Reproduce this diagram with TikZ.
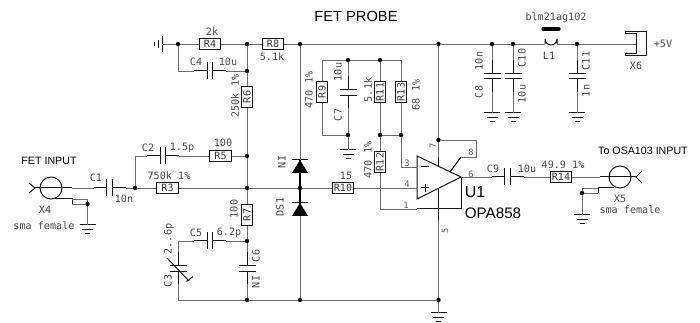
\documentclass[tikz,border=0pt]{standalone}
\usepackage{fontspec}
\setmainfont{DejaVu Sans Mono}
\newfontfamily\labelfont{Liberation Sans}
\newcommand{\fs}[1]{\fontsize{#1}{#1}\selectfont}
\tikzset{
  wire/.style={line width=0.5pt,draw=black!58},
  heavy/.style={line width=0.75pt,draw=black!92},
  dot/.style={circle,fill=black,inner sep=0pt,minimum size=3.3pt},
  resbox/.style={draw=black!92,line width=0.75pt,fill=white,inner sep=0pt,minimum width=15.8pt,minimum height=7.8pt,text=black!78,font=\fs{7.5}},
  lbl/.style={inner sep=0pt,text=black!72,font=\fs{7.6}},
  hugelbl/.style={inner sep=0pt,text=black,font=\fs{11}},
  pin/.style={inner sep=0pt,text=black!62,font=\fs{6.6}},
}
% junction
\newcommand{\junc}[3]{\node[dot] (#1) at (#2,#3) {};}
% resistor, horizontal or vertical
\newcommand{\resH}[4]{\node[resbox] (#1) at (#2,#3) {#4};}
\newcommand{\resV}[4]{\node[resbox,rotate=90] (#1) at (#2,#3) {#4};}
% capacitors: leads end at name-a and name-b
\newcommand{\capH}[3]{%
  \coordinate (#1-a) at (#2-16,#3); \coordinate (#1-b) at (#2+16,#3);
  \draw[heavy] (#1-a) -- (#2-2.8,#3) (#2+2.8,#3) -- (#1-b);
  \draw[heavy] (#2-2.8,#3-8.5) -- (#2-2.8,#3+8.5) (#2+2.8,#3-8.5) -- (#2+2.8,#3+8.5);}
\newcommand{\capV}[3]{%
  \coordinate (#1-a) at (#2,#3-16); \coordinate (#1-b) at (#2,#3+16);
  \draw[heavy] (#1-a) -- (#2,#3-2.8) (#2,#3+2.8) -- (#1-b);
  \draw[heavy] (#2-8.5,#3-2.8) -- (#2+8.5,#3-2.8) (#2-8.5,#3+2.8) -- (#2+8.5,#3+2.8);}
% ground symbol pointing down
\newcommand{\gnd}[3]{%
  \coordinate (#1) at (#2,#3);
  \draw[heavy] (#2-8,#3) -- (#2+8,#3) (#2-5.5,#3+4.5) -- (#2+5.5,#3+4.5) (#2-2.5,#3+9) -- (#2+2.5,#3+9);}
% diode, apex up
\newcommand{\diode}[3]{%
  \coordinate (#1-k) at (#2,#3); \coordinate (#1-a) at (#2,#3+13);
  \draw[heavy] (#2-8,#3) -- (#2+8,#3);
  \fill[black] (#2,#3) -- (#2+8,#3+13) -- (#2-8,#3+13) -- cycle;}
\begin{document}
\begin{tikzpicture}[x=0.75pt,y=-0.75pt]
\useasboundingbox (0,0) rectangle (700,323);
% ---- junctions
\junc{jA}{178}{44}\junc{jB}{247}{44}\junc{jC}{300}{44}\junc{jD}{438.5}{44}
\junc{jE}{492}{44}\junc{jF}{513}{44}\junc{jG}{577}{44}
\junc{jH}{247}{71}\junc{jI}{247}{156}\junc{jJ}{135}{188}\junc{jK}{247}{188}\junc{jL}{300}{188}
\junc{jM}{247}{241}\junc{jN}{247}{300}\junc{jO}{300}{300}\junc{jP}{438.5}{300}
\junc{jQ}{348}{60}\junc{jR}{380}{60}\junc{jS}{348}{135}\junc{jT}{380}{135}\junc{jU}{401}{135}
\junc{jV}{438.5}{140}\junc{jW}{87.5}{204}\junc{jX}{582}{193}
% ---- resistors
\resH{R4}{210}{44}{R4}\resH{R8}{273}{44}{R8}\resH{R5}{220.5}{156}{R5}\resH{R3}{167.5}{188}{R3}
\resH{R10}{343}{188}{R10}\resH{R14}{561}{177}{R14}
\resV{R6}{247}{97}{R6}\resV{R7}{247}{215}{R7}\resV{R9}{322}{92}{R9}
\resV{R11}{380}{92}{R11}\resV{R13}{401}{92}{R13}\resV{R12}{380}{162}{R12}
% ---- capacitors
\capH{C1}{109.5}{188}\capH{C2}{163}{156}\capH{C4}{210}{71}\capH{C5}{210}{241}\capH{C9}{507.5}{177}
\capV{C6}{247}{268.5}\capV{C7}{348}{92.5}\capV{C8}{492}{76}\capV{C10}{513}{76}\capV{C11}{577}{76}
\capV{C3}{178}{268.5}
% ---- grounds
\gnd{g1}{87.5}{225}\gnd{g2}{348}{150}\gnd{g3}{438.5}{313}\gnd{g4}{492}{113}\gnd{g5}{513}{113}\gnd{g6}{577}{113}\gnd{g7}{582}{215}
% left ground (rotated)
\coordinate (gL) at (162,44);
\draw[heavy] (162,36) -- (162,52) (158,40) -- (158,48) (154,42) -- (154,46);
% ---- diodes
\diode{D1}{300}{160}\diode{D2}{300}{203}
\draw[line width=1.1pt,black] (D1-k) -- (D2-a);
\draw[wire] (jC) -- (D1-k);
\draw[wire] (D2-a) -- (jO);
% ---- variable capacitor arrow
\draw[heavy] (167,258) -- (189,281) (186.5,281.5) -- (193,276.5);
% ---- op amp
\coordinate (sTop) at (438.5,157);
\coordinate (sBot) at (438.5,220);
\coordinate (oT) at (417,156);\coordinate (oB) at (417,199);\coordinate (oO) at (461,177);
\coordinate (oP) at (417,188);\coordinate (oM) at (417,167);\coordinate (oF) at (417,209);\coordinate (oC) at (461,209);
\draw[wire] (jD) -- (jV) -- (sTop);
\draw[heavy] (sTop) -- (sBot);
\draw[wire] (sBot) -- (jP);
\draw[heavy,fill=white] (oT) -- (oO) -- (oB) -- cycle;
\draw[heavy] (oF) -- (oC) -- (oO);
\draw[heavy] (450,172) -- (461,157);
\coordinate (p8a) at (476,140);\coordinate (p8b) at (476,157);\coordinate (p8c) at (461,157);
\draw[wire] (jV) -- (p8a) -- (p8b) -- (p8c);
\draw[heavy] (421,166.5) -- (429,166.5);
\draw[heavy] (421,188) -- (429,188) (425,184) -- (425,192);
% ---- connectors
\coordinate (x4) at (51,188);\coordinate (x5) at (620,177);
\node[circle,draw=black!92,line width=0.75pt,inner sep=0pt,minimum size=16.5pt] (X4) at (x4) {};
\node[circle,draw=black!92,line width=0.75pt,inner sep=0pt,minimum size=16.5pt] (X5) at (x5) {};
\coordinate (x4t) at (35,188);\coordinate (x4h) at (72,188);
\coordinate (x5t) at (636,177);\coordinate (x5h) at (600,177);
\draw[heavy] (x4t) -- (x4h);
\draw[heavy] (x5t) -- (x5h);
\draw[heavy] (29,183) -- (x4t) -- (29,193);
\draw[heavy] (642,171) -- (x5t) -- (642,183);
\draw[heavy] (55,198.5) -- (72,198.5) -- (72,204);
\draw[wire] (72,199) -- (87.5,199) -- (jW) -- (72,204);
\draw[heavy] (614,188) -- (598,188) -- (598,193);
\draw[wire] (598,188) -- (582,188) -- (jX) -- (598,193);
% X6
\coordinate (x6) at (636,44);
\draw[heavy] (625,32) -- (646,32) -- (646,56) -- (625,56) -- (625,54) -- (636,54) -- (636,34) -- (625,34) -- cycle;
% L1
\coordinate (l1a) at (545,44);\coordinate (l1b) at (557,44);
\draw[heavy] (l1a) -- (545,39) arc[start angle=180,end angle=0,radius=6] -- (l1b);
\draw[line width=2.4pt,black,line cap=round] (543,29) -- (559,29);
% ---- wires
\draw[wire] (gL) -- (jA);
\draw[wire] (jA) -- (R4.west);
\draw[wire] (R4.east) -- (jB) -- (R8.west);
\draw[wire] (R8.east) -- (jC) -- (jD) -- (jE) -- (jF) -- (l1a);
\draw[wire] (l1b) -- (jG) -- (x6);
\draw[wire] (jA) -- (178,71) -- (C4-a);
\draw[wire] (C4-b) -- (jH);
\draw[wire] (jB) -- (jH) -- (R6.east);
\draw[wire] (R6.west) -- (jI) -- (jK) -- (R7.east);
\draw[wire] (R7.west) -- (jM) -- (C6-a);
\draw[wire] (C6-b) -- (jN);
\draw[wire] (R5.east) -- (jI);
\draw[wire] (C2-b) -- (R5.west);
\draw[wire] (jJ) -- (135,156) -- (C2-a);
\draw[wire] (x4h) -- (C1-a);
\draw[wire] (C1-b) -- (jJ) -- (R3.west);
\draw[wire] (R3.east) -- (jK) -- (jL) -- (R10.west);
\draw[wire] (R10.east) -- (oP);
\draw[wire] (jM) -- (C5-b);
\draw[wire] (C5-a) -- (178,241) -- (C3-a);
\draw[wire] (C3-b) -- (178,300) -- (jN) -- (jO) -- (jP) -- (g3);
\draw[wire] (jW) -- (g1);
\draw[wire] (jX) -- (g7);
% feedback network
\draw[wire] (R9.east) -- (322,60) -- (jQ) -- (jR) -- (401,60) -- (R13.east);
\draw[wire] (R9.west) -- (322,135) -- (jS) -- (g2);
\draw[wire] (jQ) -- (C7-a);
\draw[wire] (C7-b) -- (jS);
\draw[wire] (jR) -- (R11.east);
\draw[wire] (R11.west) -- (jT) -- (jU) ;
\draw[wire] (R13.west) -- (jU) -- (401,167) -- (oM);
\draw[wire] (jT) -- (R12.east);
\draw[wire] (R12.west) -- (380,209) -- (oF);
% caps to rails
\draw[wire] (jE) -- (C8-a);\draw[wire] (C8-b) -- (g4);
\draw[wire] (jF) -- (C10-a);\draw[wire] (C10-b) -- (g5);
\draw[wire] (jG) -- (C11-a);\draw[wire] (C11-b) -- (g6);
% output
\draw[wire] (oO) -- (C9-a);
\draw[wire] (C9-b) -- (R14.west);
\draw[wire] (R14.east) -- (x5h);
% ---- labels
\node[hugelbl] (t0) at (356,16) {\labelfont\fs{11}FET PROBE};
\node[hugelbl] (t1) at (49,161) {\labelfont\fs{8}FET INPUT};
\node[hugelbl] (t2) at (643,151) {\labelfont\fs{8}To OSA103 INPUT};
\node[hugelbl] (t3) at (475,192) {\labelfont\fs{12}U1};
\node[hugelbl] (t4) at (493,213) {\labelfont\fs{11.4}OPA858};
\node[lbl] (a1) at (212,32) {2k};
\node[lbl] (a2) at (196,62) {C4};
\node[lbl] (a3) at (228,62) {10u};
\node[lbl] (a4) at (148,148) {C2};
\node[lbl] (a5) at (182,148) {1.5p};
\node[lbl] (a6) at (223,143) {100};
\node[lbl] (a7) at (169,176) {750k 1\%};
\node[lbl] (a8) at (96,178) {C1};
\node[lbl] (a9) at (124,199) {10n};
\node[lbl] (a10) at (45,210) {X4};
\node[lbl] (a11) at (44,226) {sma female};
\node[lbl] (a12) at (272,57) {5.1k};
\node[lbl] (a13) at (346,176) {15};
\node[lbl] (a14) at (229,233) {6.2p};
\node[lbl] (a15) at (196,233) {C5};
\node[lbl] (a16) at (493,169) {C9};
\node[lbl] (a17) at (527,169) {10u};
\node[lbl] (a18) at (563,165) {49.9 1\%};
\node[lbl] (a19) at (620,199) {X5};
\node[lbl] (a20) at (630,210) {sma female};
\node[lbl] (a21) at (556,18) {blm21ag102};
\node[lbl] (a22) at (549,56) {L1};
\node[lbl] (a23) at (636,66) {X6};
\node[lbl] (a24) at (663,44) {+5V};
% rotated
\node[lbl,rotate=90] (b1) at (235,96) {250k 1\%};
\node[lbl,rotate=90] (b2) at (309,90) {470 1\%};
\node[lbl,rotate=90] (b3) at (338,72) {10u};
\node[lbl,rotate=90] (b4) at (338,115) {C7};
\node[lbl,rotate=90] (b5) at (368,90) {5.1k};
\node[lbl,rotate=90] (b6) at (416,95) {68 1\%};
\node[lbl,rotate=90] (b7) at (368,160) {470 1\%};
\node[lbl,rotate=90] (b8) at (234,209) {100};
\node[lbl,rotate=90] (b9) at (169,239) {2..6p};
\node[lbl,rotate=90] (b10) at (168,281) {C3};
\node[lbl,rotate=90] (b11) at (256,256) {C6};
\node[lbl,rotate=90] (b12) at (256,282) {NI};
\node[lbl,rotate=90] (b13) at (282,162) {NI};
\node[lbl,rotate=90] (b14) at (280,207) {DS1};
\node[lbl,rotate=90] (b15) at (479,61) {10n};
\node[lbl,rotate=90] (b16) at (479,92) {C8};
\node[lbl,rotate=90] (b17) at (522,58) {C10};
\node[lbl,rotate=90] (b18) at (522,94) {10u};
\node[lbl,rotate=90] (b19) at (586,61) {C11};
\node[lbl,rotate=90] (b20) at (586,91) {1n};
% pin numbers
\node[pin] (p3) at (407,163) {3};
\node[pin] (p4) at (407,184) {4};
\node[pin] (p1) at (406,205) {1};
\node[pin,rotate=90] (p5) at (445,231) {5};
\node[pin] (p6) at (471,174) {6};
\node[pin,rotate=90] (p7) at (433,146) {7};
\node[pin] (p8) at (471,152) {8};
\end{tikzpicture}
\end{document}
